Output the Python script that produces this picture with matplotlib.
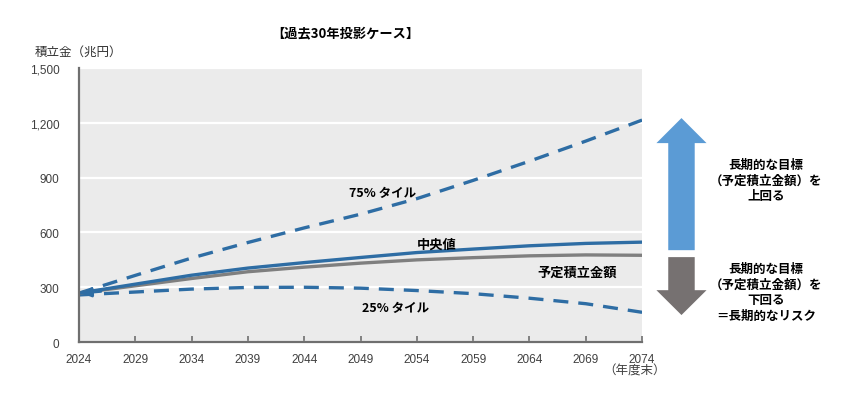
import numpy as np
import matplotlib.pyplot as plt
from matplotlib.patches import FancyArrow
from matplotlib.ticker import FuncFormatter

plt.rcParams['font.family'] = ['Noto Sans CJK JP', 'DejaVu Sans']

# values (兆円)
years = [2024, 2029, 2034, 2039, 2044, 2049, 2054, 2059, 2064, 2069, 2074]
p75 = [268, 365, 460, 545, 625, 700, 785, 885, 990, 1100, 1215]
median = [268, 317, 366, 405, 435, 463, 490, 509, 527, 540, 547]
planned = [268, 308, 348, 385, 410, 432, 450, 462, 472, 477, 475]
p25 = [258, 274, 290, 299, 300, 295, 282, 265, 240, 210, 163]

yticks = [0, 300, 600, 900, 1200, 1500]
xticks = years

blue = '#2e6da4'
gray = '#7f7f7f'

fig = plt.figure(figsize=(8.57, 4.06), dpi=100)
fig.patch.set_facecolor('#ffffff')
ax = fig.add_axes([0.0922, 0.155, 0.657, 0.675])
ax.set_facecolor('#ebebeb')

ax.plot(years, p75, color=blue, lw=2.4, dashes=(4.5, 3.0))
ax.plot(years, p25, color=blue, lw=2.4, dashes=(4.5, 3.0))
ax.plot(years, planned, color=gray, lw=2.4, solid_capstyle='butt')
ax.plot(years, median, color=blue, lw=2.4, solid_capstyle='butt')
ax.annotate('', xy=(years[0], 266), xytext=(years[0] + 2.2, 278),
            arrowprops=dict(arrowstyle='-|>', color=blue, lw=1.8,
                            mutation_scale=14), annotation_clip=False)

ax.set_xlim(years[0], years[-1])
ax.set_ylim(0, 1500)
ax.set_yticks(yticks)
ax.set_xticks(xticks)
ax.yaxis.set_major_formatter(FuncFormatter(lambda v, p: f'{int(v):,}'))
ax.grid(axis='y', color='white', lw=1.6)
ax.set_axisbelow(True)
for s in ['top', 'right']:
    ax.spines[s].set_visible(False)
for s in ['left', 'bottom']:
    ax.spines[s].set_color('#6f6f6f')
    ax.spines[s].set_linewidth(1.6)
ax.tick_params(axis='y', length=0, pad=14, labelsize=8.5, labelcolor='#404040')
ax.tick_params(axis='x', direction='in', length=4, width=1.2, color='#6f6f6f',
               pad=8, labelsize=8.5, labelcolor='#404040')
for lab in ax.get_xticklabels() + ax.get_yticklabels():
    lab.set_family(['Liberation Sans', 'DejaVu Sans'])

# series labels
ax.text(2051.0, 820, '75% タイル', fontsize=9, fontweight='bold', ha='center', va='center')
ax.text(2055.8, 538, '中央値', fontsize=9.5, fontweight='bold', ha='center', va='center')
ax.text(2068.2, 383, '予定積立金額', fontsize=9.5, fontweight='bold', ha='center', va='center')
ax.text(2052.1, 191, '25% タイル', fontsize=9, fontweight='bold', ha='center', va='center')

fig.text(345 / 857, 1 - 33 / 406, '【過去30年投影ケース】', fontsize=9.5,
         fontweight='bold', ha='center', va='center')
fig.text(35 / 857, 1 - 52 / 406, '積立金（兆円）', fontsize=9,
         ha='left', va='center', color='#303030')
fig.text(635 / 857, 1 - 371 / 406, '（年度末）', fontsize=9,
         ha='center', va='center', color='#404040')

# arrows on the right side
ax_x = 2077.5
up = FancyArrow(ax_x, 503, 0, 1226 - 503, width=2.35, head_width=4.45,
                head_length=137, length_includes_head=True,
                color='#5b9bd5', clip_on=False, lw=0)
down = FancyArrow(ax_x, 465, 0, 148 - 465, width=2.35, head_width=4.45,
                  head_length=136, length_includes_head=True,
                  color='#767171', clip_on=False, lw=0)
ax.add_patch(up)
ax.add_patch(down)

fig.text(766 / 857, 1 - 181 / 406, '長期的な目標\n（予定積立金額）を\n上回る',
         fontsize=9, fontweight='bold', ha='center', va='center', linespacing=1.25)
fig.text(766 / 857, 1 - 293 / 406, '長期的な目標\n（予定積立金額）を\n下回る\n＝長期的なリスク',
         fontsize=9, fontweight='bold', ha='center', va='center', linespacing=1.25)

fig.savefig('out.png', dpi=100, facecolor='#ffffff')
